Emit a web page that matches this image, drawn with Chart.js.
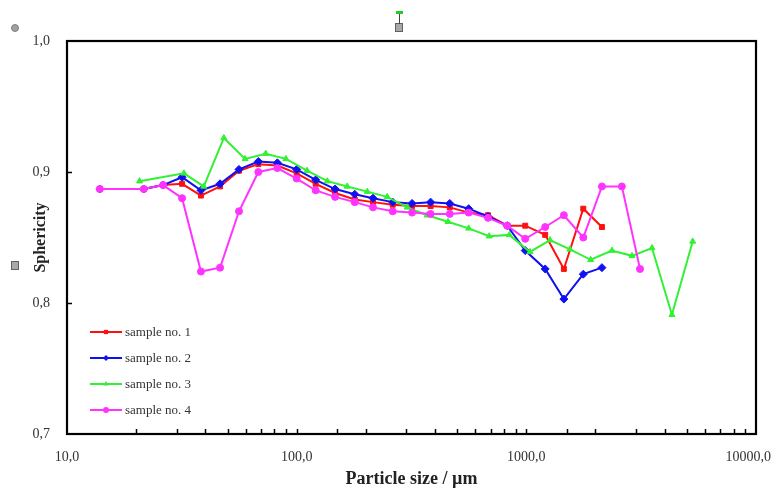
<!DOCTYPE html>
<html lang="en">
<head>
<meta charset="UTF-8">
<title>Sphericity vs particle size</title>
<script src="https://cdn.jsdelivr.net/npm/chart.js@4/dist/chart.umd.min.js"></script>
<style>
  body { margin: 0; background: #fff; }
  #wrap { position: relative; width: 772px; height: 491px; }
  .h { position: absolute; box-sizing: border-box; }
  .dot { width: 8px; height: 8px; border-radius: 50%; background: #a0a0a0; border: 1px solid #808080; }
  .sq { width: 8px; height: 9px; background: #a8a8a8; border: 1px solid #606060; }
</style>
</head>
<body>
<div id="wrap">
  <canvas id="chart" width="772" height="491"></canvas>
  <!-- selection handles left over in the screenshot -->
  <div class="h dot" style="left:11px;top:24px"></div>
  <div class="h sq" style="left:11px;top:261px"></div>
  <div class="h sq" style="left:395px;top:23px"></div>
  <div class="h" style="left:399px;top:14px;width:1px;height:10px;background:#444"></div>
  <div class="h" style="left:396px;top:11px;width:7px;height:3px;background:#2c2"></div>
</div>
<script>
// particle sizes (µm) for samples 1, 2 and 4 (sample 4 has two more fractions)
const sizes = [13.9, 21.6, 26.2, 31.7, 38.3, 46.4, 56.1, 68.1, 82.4, 100, 121, 147, 179, 215,
  262, 318, 383, 464, 561, 681, 826, 989, 1208, 1457, 1770, 2134, 2606, 3126];
// particle sizes (µm) for sample 3
const sizes3 = [20.7, 32.3, 39.4, 48.2, 59.6, 73.3, 89.8, 111, 136, 166, 203, 248, 303, 370,
  456, 561, 689, 843, 1037, 1268, 1549, 1906, 2360, 2885, 3525, 4305, 5300];

const sample1 = [0.887, 0.887, 0.890, 0.891, 0.882, 0.889, 0.901, 0.906, 0.905, 0.899, 0.891, 0.884, 0.879,
  0.877, 0.875, 0.874, 0.874, 0.873, 0.869, 0.867, 0.859, 0.859, 0.852, 0.826, 0.872, 0.858];
const sample2 = [0.887, 0.887, 0.890, 0.896, 0.886, 0.891, 0.902, 0.908, 0.907, 0.902, 0.894, 0.887, 0.883,
  0.880, 0.877, 0.876, 0.877, 0.876, 0.872, 0.866, 0.859, 0.840, 0.826, 0.803, 0.822, 0.827];
const sample3 = [0.893, 0.899, 0.889, 0.926, 0.910, 0.914, 0.910, 0.901, 0.893, 0.889, 0.885, 0.881, 0.873,
  0.867, 0.862, 0.857, 0.851, 0.852, 0.839, 0.848, 0.841, 0.833, 0.840, 0.836, 0.842, 0.791, 0.847];
const sample4 = [0.887, 0.887, 0.890, 0.880, 0.824, 0.827, 0.870, 0.900, 0.903, 0.895, 0.886, 0.881, 0.877,
  0.873, 0.870, 0.869, 0.868, 0.868, 0.869, 0.865, 0.859, 0.849, 0.858, 0.867, 0.850, 0.889, 0.889, 0.826];

const seriesNames = ['sample no. 1', 'sample no. 2', 'sample no. 3', 'sample no. 4'];
const yTicks = [0.7, 0.8, 0.9, 1.0];
const xTickLabels = [10, 100, 1000, 10000];

const SERIF = "'Liberation Serif', 'Times New Roman', serif";

function pts(xs, ys) {
  return ys.map((v, i) => ({ x: xs[i], y: v }));
}

function comma(v) {
  return v.toFixed(1).replace('.', ',');
}

// frame, inward tick marks and the legend box inside the plot
const framePlugin = {
  id: 'frame',
  beforeDraw(chart) {
    // keep the last x label inside the canvas, like the original does
    const items = chart.scales.x.getLabelItems();
    const last = items.filter(it => it.label !== '').pop();
    if (last) {
      last.options.textAlign = 'right';
      last.options.translation[0] = chart.width - 1;
    }
  },
  afterDraw(chart) {
    const { ctx, chartArea: a, scales } = chart;
    ctx.save();
    ctx.strokeStyle = '#000';
    ctx.lineWidth = 1.5;
    ctx.beginPath();
    scales.x.ticks.forEach(t => {
      const px = Math.round(scales.x.getPixelForValue(t.value)) + 0.5;
      if (px <= a.left + 1 || px >= a.right - 1) return;
      ctx.moveTo(px, a.bottom);
      ctx.lineTo(px, a.bottom - 5);
    });
    yTicks.forEach(v => {
      const py = Math.round(scales.y.getPixelForValue(v)) + 0.5;
      if (py <= a.top + 1 || py >= a.bottom - 1) return;
      ctx.moveTo(a.left, py);
      ctx.lineTo(a.left + 5, py);
    });
    ctx.stroke();
    ctx.lineWidth = 2.2;
    ctx.strokeRect(a.left, a.top, a.right - a.left, a.bottom - a.top);

    // legend
    ctx.font = '13px ' + SERIF;
    ctx.textBaseline = 'middle';
    chart.data.datasets.forEach((ds, i) => {
      const y = a.bottom - 102 + i * 26;
      const x0 = a.left + 23;
      ctx.strokeStyle = ds.borderColor;
      ctx.lineWidth = 2;
      ctx.beginPath();
      ctx.moveTo(x0, y);
      ctx.lineTo(x0 + 32, y);
      ctx.stroke();
      ctx.fillStyle = ds.backgroundColor;
      ctx.lineWidth = 1;
      Chart.helpers.drawPoint(ctx, { pointStyle: ds.pointStyle, rotation: 0, radius: 3 }, x0 + 16, y);
      ctx.fillStyle = '#333';
      ctx.fillText(ds.label, x0 + 35, y + 1);
    });
    ctx.restore();
  }
};

new Chart(document.getElementById('chart'), {
  type: 'line',
  data: {
    datasets: [
      { label: seriesNames[0], data: pts(sizes, sample1), borderColor: '#ff1010', backgroundColor: '#ff1010',
        pointStyle: 'rect', pointRadius: 3.5, order: 4 },
      { label: seriesNames[1], data: pts(sizes, sample2), borderColor: '#1010f0', backgroundColor: '#1010f0',
        pointStyle: 'rectRot', pointRadius: 4, order: 3 },
      { label: seriesNames[2], data: pts(sizes3, sample3), borderColor: '#33f033', backgroundColor: '#33f033',
        pointStyle: 'triangle', pointRadius: 3.5, order: 2 },
      { label: seriesNames[3], data: pts(sizes, sample4), borderColor: '#ff33ff', backgroundColor: '#ff33ff',
        pointStyle: 'circle', pointRadius: 3.5, order: 1 }
    ]
  },
  options: {
    responsive: false,
    animation: false,
    devicePixelRatio: 1,
    datasets: { line: { borderWidth: 2, tension: 0, pointBorderWidth: 1, fill: false } },
    layout: { padding: { top: 41, right: 16, bottom: 0, left: 0 } },
    plugins: { legend: { display: false }, tooltip: { enabled: false } },
    scales: {
      x: {
        type: 'logarithmic',
        min: 10,
        max: 10000,
        grid: { display: false, drawTicks: false },
        border: { display: false },
        ticks: {
          autoSkip: false,
          maxRotation: 0,
          padding: 15,
          color: '#333',
          font: { family: SERIF, size: 14 },
          callback: v => {
            const hit = xTickLabels.find(t => Math.abs(t - v) < 1e-6);
            return hit ? comma(hit) : '';
          }
        },
        title: {
          display: true,
          text: 'Particle size / µm',
          color: '#222',
          font: { family: SERIF, size: 18, weight: 'bold' },
          padding: { top: 0, bottom: 1 }
        },
        afterFit: s => { s.height = 57; s.paddingLeft = 0; s.paddingRight = 0; }
      },
      y: {
        min: 0.7,
        max: 1.0,
        grid: { display: false, drawTicks: false },
        border: { display: false },
        afterBuildTicks: s => { s.ticks = yTicks.map(v => ({ value: v })); },
        ticks: {
          padding: 17,
          color: '#333',
          font: { family: SERIF, size: 14 },
          callback: v => comma(v)
        },
        title: {
          display: true,
          text: 'Sphericity',
          color: '#222',
          font: { family: SERIF, size: 16, weight: 'bold' },
          padding: { top: 31, bottom: 0 }
        },
        afterFit: s => { s.width = 67; s.paddingTop = 0; s.paddingBottom = 0; }
      }
    }
  },
  plugins: [framePlugin]
});
</script>
</body>
</html>
